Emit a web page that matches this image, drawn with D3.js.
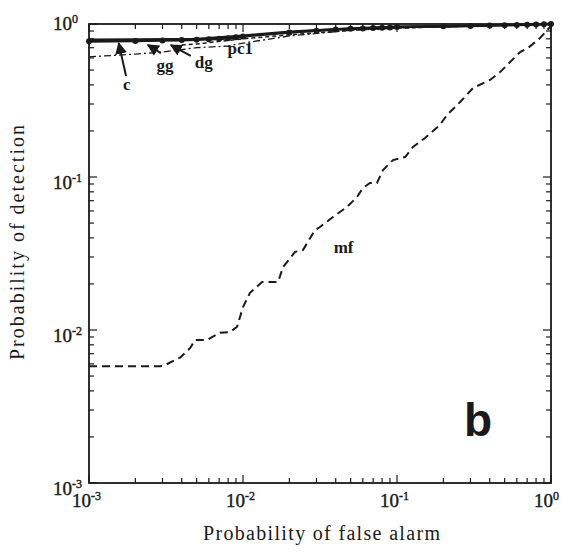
<!DOCTYPE html>
<html>
<head>
<meta charset="utf-8">
<script src="https://cdn.jsdelivr.net/npm/d3@7"></script>
<style>
  body { margin: 0; background: #fff; }
  svg { display: block; }
  text { font-family: "Liberation Serif", "Times New Roman", serif; fill: #1a1a1a; }
</style>
</head>
<body>
<svg id="chart" width="561" height="554"></svg>
<script>
// mf curve (dashed)
const mfX = [0.001, 0.00289, 0.00312, 0.0039, 0.00453, 0.00488, 0.00583, 0.0071, 0.00824, 0.00915,
  0.01, 0.0111, 0.0133, 0.0169, 0.0182, 0.0218, 0.0245, 0.0294, 0.0316, 0.0384,
  0.0473, 0.055, 0.0601, 0.0668, 0.0741, 0.0811, 0.0942, 0.113, 0.127, 0.152,
  0.19, 0.211, 0.257, 0.312, 0.402, 0.467, 0.63, 0.71, 0.849, 1.0];
const mfY = [0.0058, 0.0058, 0.0059, 0.0066, 0.0076, 0.0086, 0.0086, 0.0096, 0.0097, 0.0105,
  0.0141, 0.0175, 0.0206, 0.0206, 0.0258, 0.0324, 0.0333, 0.0451, 0.0471, 0.0548,
  0.0637, 0.074, 0.0848, 0.0914, 0.0914, 0.111, 0.129, 0.135, 0.157, 0.18,
  0.219, 0.254, 0.309, 0.382, 0.431, 0.485, 0.656, 0.697, 0.81, 0.97];

// c (solid)
const cX = [0.001, 0.002, 0.005, 0.01, 0.02, 0.05, 0.1, 0.3, 1.0];
const cY = [0.79, 0.792, 0.80, 0.84, 0.89, 0.935, 0.96, 0.975, 1.0];

// dg (solid with dots)
const dgX = [0.001, 0.002, 0.003, 0.004, 0.005, 0.006, 0.007, 0.008, 0.009,
  0.01, 0.02, 0.03, 0.04, 0.05, 0.06, 0.07, 0.08, 0.09,
  0.1, 0.2, 0.3, 0.4, 0.5, 0.6, 0.7, 0.8, 0.9, 1.0];
const dgY = [0.77, 0.775, 0.78, 0.785, 0.79, 0.795, 0.80, 0.808, 0.818,
  0.83, 0.88, 0.905, 0.92, 0.93, 0.935, 0.94, 0.945, 0.95,
  0.955, 0.965, 0.972, 0.977, 0.981, 0.985, 0.988, 0.992, 0.996, 1.0];

// gg (dash-dot)
const ggX = [0.001, 0.002, 0.003, 0.005, 0.008, 0.01, 0.02, 0.05, 0.1, 0.3, 1.0];
const ggY = [0.61, 0.636, 0.656, 0.70, 0.718, 0.75, 0.835, 0.91, 0.94, 0.97, 1.0];

// pc1 (short dashes)
const pcX = [0.004, 0.005, 0.01, 0.02, 0.05, 0.1, 0.3, 1.0];
const pcY = [0.73, 0.74, 0.80, 0.85, 0.91, 0.94, 0.97, 1.0];

const decades = [-3, -2, -1, 0];
const xTitle = "Probability of false alarm";
const yTitle = "Probability of detection";

const svg = d3.select("#chart");
const mLeft = 89, mRight = 551, mTop = 24, mBottom = 483;
const ink = "#1a1a1a";

const x = d3.scaleLog().domain([1e-3, 1]).range([mLeft, mRight]);
const y = d3.scaleLog().domain([1e-3, 1]).range([mBottom, mTop]);

// tick values: 1..9 per decade
const ticks = [];
decades.forEach(d => {
  if (d === 0) { ticks.push({ v: 1, major: true, d: d }); return; }
  for (let k = 1; k <= 9; k++) ticks.push({ v: k * Math.pow(10, d), major: k === 1, d: d });
});

const tickG = svg.append("g").attr("stroke", ink).attr("stroke-width", 1.2);
ticks.forEach(t => {
  const len = t.major ? 8 : 5;
  const px = x(t.v), py = y(t.v);
  tickG.append("line").attr("x1", px).attr("x2", px).attr("y1", mBottom).attr("y2", mBottom - len);
  tickG.append("line").attr("x1", px).attr("x2", px).attr("y1", mTop).attr("y2", mTop + len);
  tickG.append("line").attr("y1", py).attr("y2", py).attr("x1", mLeft).attr("x2", mLeft + len);
  tickG.append("line").attr("y1", py).attr("y2", py).attr("x1", mRight).attr("x2", mRight - len);
});

svg.append("rect")
  .attr("x", mLeft).attr("y", mTop)
  .attr("width", mRight - mLeft).attr("height", mBottom - mTop)
  .attr("fill", "none").attr("stroke", ink).attr("stroke-width", 1.8);

// tick labels
const majors = ticks.filter(t => t.major);
majors.forEach(t => {
  const xl = svg.append("text")
    .attr("x", x(t.v) - 17).attr("y", mBottom + 24)
    .attr("font-size", 19)
    .attr("stroke", ink).attr("stroke-width", 0.4)
    .text("10");
  xl.append("tspan").attr("dy", -7).attr("font-size", 12).text(t.d === 0 ? "0" : "-" + (-t.d));

  const yl = svg.append("text")
    .attr("x", 53).attr("y", y(t.v) + (t.d === 0 ? 6 : 12))
    .attr("font-size", 19)
    .attr("stroke", ink).attr("stroke-width", 0.4)
    .text("10");
  yl.append("tspan").attr("dy", -7).attr("font-size", 12).text(t.d === 0 ? "0" : "-" + (-t.d));
});

// axis titles
svg.append("text")
  .attr("x", 203).attr("y", 540)
  .attr("font-size", 20)
  .attr("textLength", 237).attr("lengthAdjust", "spacing")
  .text(xTitle);
svg.append("text")
  .attr("transform", "translate(24,360) rotate(-90)")
  .attr("font-size", 20)
  .attr("textLength", 235).attr("lengthAdjust", "spacing")
  .text(yTitle);

const line = d3.line().x(d => x(d[0])).y(d => y(d[1]));
const plot = svg.append("g").attr("fill", "none").attr("stroke", ink);

plot.append("path").datum(d3.zip(mfX, mfY)).attr("d", line)
  .attr("stroke-width", 2).attr("stroke-dasharray", "8,5");
plot.append("path").datum(d3.zip(ggX, ggY)).attr("d", line)
  .attr("stroke-width", 1.3).attr("stroke-dasharray", "7,3,2,3");
plot.append("path").datum(d3.zip(pcX, pcY)).attr("d", line)
  .attr("stroke-width", 1.5).attr("stroke-dasharray", "4,3");
plot.append("path").datum(d3.zip(dgX, dgY)).attr("d", line)
  .attr("stroke-width", 2.6);
plot.append("path").datum(d3.zip(cX, cY)).attr("d", line)
  .attr("stroke-width", 2.4);

svg.append("g").attr("fill", ink)
  .selectAll("circle").data(d3.zip(dgX, dgY)).enter()
  .append("circle")
  .attr("cx", d => x(d[0])).attr("cy", d => y(d[1]))
  .attr("r", 3);

// annotations
svg.append("defs").append("marker")
  .attr("id", "arrow").attr("viewBox", "0 0 10 10")
  .attr("refX", 9).attr("refY", 5)
  .attr("markerWidth", 6).attr("markerHeight", 6)
  .attr("orient", "auto")
  .append("path").attr("d", "M0,0 L10,5 L0,10 z").attr("fill", ink);

const arrows = [
  [0.00174, 0.457, 0.00156, 0.75],
  [0.00458, 0.618, 0.0034, 0.729],
  [0.00293, 0.646, 0.00241, 0.729]
];
arrows.forEach(a => {
  svg.append("line")
    .attr("x1", x(a[0])).attr("y1", y(a[1]))
    .attr("x2", x(a[2])).attr("y2", y(a[3]))
    .attr("stroke", ink).attr("stroke-width", 2)
    .attr("marker-end", "url(#arrow)");
});

const labels = [
  { t: "c", x: 0.00176, y: 0.37 },
  { t: "gg", x: 0.00311, y: 0.493 },
  { t: "dg", x: 0.00556, y: 0.515 },
  { t: "pc1", x: 0.0096, y: 0.637 },
  { t: "mf", x: 0.045, y: 0.032 }
];
svg.append("g").selectAll("text").data(labels).enter()
  .append("text")
  .attr("x", d => x(d.x)).attr("y", d => y(d.y))
  .attr("text-anchor", "middle")
  .attr("font-size", 17).attr("font-weight", "bold")
  .text(d => d.t);

svg.append("text")
  .attr("x", mRight - 87).attr("y", mBottom - 47)
  .style("font-family", "'Liberation Sans', Arial, sans-serif")
  .attr("font-size", 46).attr("font-weight", "bold")
  .text("b");
</script>
</body>
</html>
